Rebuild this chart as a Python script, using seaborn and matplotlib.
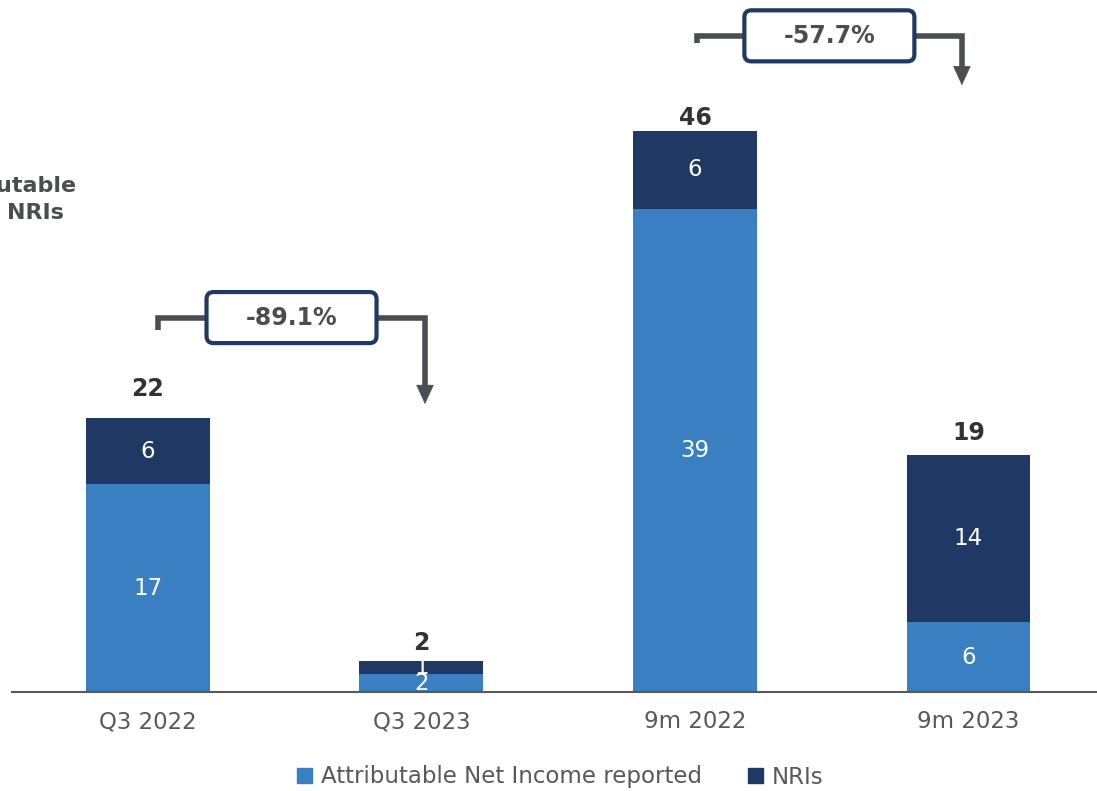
import pandas as pd
import matplotlib.pyplot as plt
import seaborn as sns
from matplotlib.patches import Patch, FancyBboxPatch

sns.set_theme(style="white")
plt.rcParams["font.family"] = ["DejaVu Sans"]

# datos
periods = ["Q3 2022", "Q3 2023", "9m 2022", "9m 2023"]
reported = [16.8, 1.45, 39.1, 5.65]
nris = [5.4, 1.05, 6.3, 13.5]
reported_labels = ["17", "2", "39", "6"]
nris_labels = ["6", "1", "6", "14"]
total_labels = ["22", "2", "46", "19"]
changes = ["-89.1%", "-57.7%"]

LIGHT = "#3A7FC1"
DARK = "#203864"
GREY = "#4A4D52"

df = pd.DataFrame({"period": periods, "reported": reported, "nris": nris})
df["total"] = df["reported"] + df["nris"]

fig = plt.figure(figsize=(10.97, 7.91), dpi=100)
ax = fig.add_axes([12 / 1097, 99 / 791, 1085 / 1097, 692 / 791])

sns.barplot(data=df, x="period", y="total", color=DARK, width=0.453,
            saturation=1, ax=ax, order=periods, linewidth=0)
sns.barplot(data=df, x="period", y="reported", color=LIGHT, width=0.453,
            saturation=1, ax=ax, order=periods, linewidth=0)

ax.set_xlim(-0.497, 3.47)
ax.set_ylim(0, 56.0)
ax.set_xlabel("")
ax.set_ylabel("")
ax.set_yticks([])
for s in ["left", "right", "top"]:
    ax.spines[s].set_visible(False)
ax.spines["bottom"].set_color("#595959")
ax.spines["bottom"].set_linewidth(1.5)
ax.tick_params(axis="x", length=0, pad=13, labelsize=16.5, labelcolor="#595959")

# etiquetas de cada segmento y totales
px_x = 1 / 273.5
px_y = 1 / 12.35
total_gap = [29, 18, 13, 22]  # separación en px sobre cada barra

for i, row in df.iterrows():
    ax.text(i, row["reported"] / 2, reported_labels[i], ha="center", va="center",
            color="white", fontsize=16.5)
    ax.text(i, row["reported"] + row["nris"] / 2, nris_labels[i], ha="center",
            va="center", color="white", fontsize=16.5)
    ax.text(i, row["total"] + total_gap[i] * px_y, total_labels[i], ha="center",
            va="center", color="#333333", fontsize=17, fontweight="bold")


# flechas de variación
def bracket(x0, x1, y, y_tick, y_end, label):
    ax.plot([x0, x0, x1, x1], [y_tick, y, y, y_end + 1.0], color=GREY, lw=4,
            solid_joinstyle="miter", solid_capstyle="butt", zorder=3)
    ax.annotate("", xy=(x1, y_end), xytext=(x1, y_end + 2.0),
                arrowprops=dict(arrowstyle="-|>,head_width=0.6,head_length=1.3",
                                mutation_scale=10, shrinkA=0, shrinkB=0,
                                color=GREY, lw=0.5), zorder=3)
    xc = (x0 + x1) / 2
    w, h = 170 * px_x, 51 * px_y
    box = FancyBboxPatch((xc - w / 2, y - h / 2), w, h,
                         boxstyle=f"round,pad=0,rounding_size={7 * px_x}",
                         mutation_aspect=px_y / px_x, facecolor="white",
                         edgecolor=DARK, lw=3, zorder=4)
    ax.add_patch(box)
    ax.text(xc, y, label, ha="center", va="center", color=GREY, fontsize=17,
            fontweight="bold", zorder=5)


bracket(0.037, 1.013, 30.3, 29.3, 23.3, changes[0])
bracket(2.007, 2.976, 53.1, 52.5, 49.1, changes[1])

# título cortado a la izquierda
fig.text(77 / 1097, 1 - 186 / 791, "Attributable", ha="right", va="center",
         color=GREY, fontsize=16, fontweight="bold")
fig.text(64 / 1097, 1 - 213 / 791, "NRIs", ha="right", va="center",
         color=GREY, fontsize=16, fontweight="bold")

handles = [Patch(color=LIGHT, label="Attributable Net Income reported"),
           Patch(color=DARK, label="NRIs")]
leg = fig.legend(handles=handles, loc="center", bbox_to_anchor=(0.511, 1 - 777 / 791),
                 ncol=2, frameon=False, fontsize=16.5, handlelength=0.65,
                 handleheight=0.65, handletextpad=0.4, columnspacing=2.0)
for t in leg.get_texts():
    t.set_color("#595959")

fig.savefig("out.png", dpi=100)
